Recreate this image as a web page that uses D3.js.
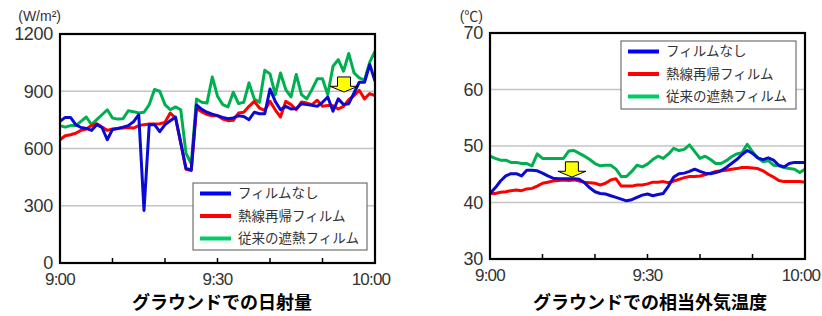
<!DOCTYPE html>
<html><head><meta charset="utf-8">
<script src="https://cdn.jsdelivr.net/npm/d3@7"></script>
<style>
body{margin:0;background:#fff;}
svg{display:block;}
text{font-family:"Liberation Sans","Noto Sans CJK JP",sans-serif;}
.jp{font-family:"Noto Sans CJK JP",sans-serif;}
</style></head>
<body><div id="c"></div>
<script>
// ---- data ----
const minutes = d3.range(0, 61); // 9:00 .. 10:00, one-minute samples
const seriesNames = ["フィルムなし", "熱線再帰フィルム", "従来の遮熱フィルム"];
const xTickLabels = ["9:00", "9:30", "10:00"];
const xTickLabelMinutes = [0, 30, 60];
const xTickMinutes = [0, 10, 20, 30, 40, 50, 60];

const solarTicks = [0, 300, 600, 900, 1200];
const solarNone = [742,763,763,725,710,705,695,725,710,646,700,705,712,720,740,777,275,725,725,688,725,745,765,630,495,488,828,805,790,780,772,763,756,760,772,768,751,790,782,782,912,847,803,821,807,809,835,830,826,821,842,870,795,860,830,835,891,947,947,1040,953];
const solarReflect = [646,667,672,680,695,702,720,730,712,695,702,705,707,710,707,720,725,728,728,730,737,786,760,628,491,484,810,792,778,772,772,754,746,748,786,790,821,847,812,800,847,803,765,847,830,803,844,838,830,853,821,826,824,807,821,856,877,905,860,888,877];
const solarConv = [720,712,720,720,742,765,725,751,777,803,760,754,756,798,793,786,790,830,909,900,830,803,818,803,575,520,860,842,838,975,874,830,818,895,835,842,944,860,842,1010,991,882,996,909,870,988,882,860,909,965,965,882,1031,1066,1005,1098,996,970,958,1053,1110];

const tempTicks = [30, 40, 50, 60, 70];
const tempNone = [41.6,42.6,43.8,44.7,45.1,45.1,44.7,45.7,45.7,45.6,45.2,44.7,44.3,44.2,44.2,44.2,44.2,44.1,43.5,42.6,41.9,41.6,41.5,41.2,40.9,40.6,40.3,40.5,40.9,41.3,41.5,41.2,41.4,41.6,42.9,44.5,45.1,45.2,45.5,45.9,45.5,45.2,45.1,45.3,45.6,46.2,46.9,47.6,48.5,49.2,48.7,47.9,47.6,47.9,47.5,46.6,46.3,46.9,47.1,47.1,47.1];
const tempReflect = [41.6,41.6,41.8,41.9,42.1,42.2,42.1,42.4,42.5,42.9,43.4,43.6,43.8,43.9,44.0,43.9,44.0,43.8,43.6,43.5,43.4,43.1,43.4,44.0,44.2,42.9,42.9,42.9,43.1,43.1,43.3,43.6,43.6,43.7,43.5,43.8,44.1,44.4,44.6,44.6,44.7,44.9,45.2,45.5,45.6,45.7,45.9,46.0,46.2,46.2,46.1,46.0,45.6,45.0,44.5,43.9,43.7,43.7,43.7,43.7,43.6];
const tempConv = [48.2,47.8,47.5,47.5,47.1,47.1,46.9,46.9,46.5,48.6,47.8,47.8,47.8,47.8,47.8,49.1,49.2,48.7,48.2,47.6,46.9,46.5,46.6,46.6,45.9,44.6,44.6,45.5,46.6,46.3,46.8,47.6,48.2,47.8,48.6,49.6,49.2,49.4,50.2,49.0,47.8,48.2,47.6,46.9,46.9,47.4,48.1,48.6,48.8,50.3,49.0,47.9,47.2,47.4,46.6,46.5,46.2,46.0,45.9,45.3,45.9];

// arrow annotations: [minute, top value, tip value]
const solarArrow = [54.1, 975, 896];
const tempArrow = [15.6, 47.2, 44.5];

// ---- drawing ----
const W = 822, H = 316;
const colors = ["#0a0ad2", "#ff0000", "#00b050"];
const legendColors = ["#0000ff", "#ff0000", "#00cc66"];

const svg = d3.select("#c").append("svg").attr("width", W).attr("height", H);

function panel(cfg) {
  const g = svg.append("g");
  const x = d3.scaleLinear().domain([0, 60]).range([cfg.x0, cfg.x1]);
  const y = d3.scaleLinear().domain(cfg.domain).range([cfg.y1, cfg.y0]);
  const clipId = "clip" + cfg.id;
  svg.append("clipPath").attr("id", clipId).append("rect")
    .attr("x", cfg.x0).attr("y", cfg.y0 - 2).attr("width", cfg.x1 - cfg.x0).attr("height", cfg.y1 - cfg.y0 + 2);

  // grid
  g.selectAll(".grid").data(cfg.ticks.slice(1, -1)).join("line")
    .attr("x1", cfg.x0).attr("x2", cfg.x1)
    .attr("y1", d => y(d)).attr("y2", d => y(d))
    .attr("stroke", "#c4c4c4").attr("stroke-width", 1.5);

  // y axis labels
  const ya = d3.axisLeft(y).tickValues(cfg.ticks).tickFormat(d3.format("d")).tickSize(0).tickPadding(7);
  const yg = g.append("g").attr("transform", `translate(${cfg.x0},0)`).call(ya);
  yg.select(".domain").remove();
  yg.selectAll("text").attr("font-size", 18).attr("fill", "#333")
    .attr("font-family", "Liberation Sans, sans-serif").attr("letter-spacing", "-0.3");

  // x axis ticks (inward) and labels
  g.selectAll(".xt").data(xTickMinutes.slice(1, -1)).join("line")
    .attr("x1", d => x(d)).attr("x2", d => x(d))
    .attr("y1", cfg.y1).attr("y2", cfg.y1 - 5)
    .attr("stroke", "#000").attr("stroke-width", 1.5);
  g.selectAll(".xl").data(xTickLabelMinutes).join("text")
    .attr("x", d => x(d) - (d === 60 ? 4 : 0)).attr("y", cfg.y1 + 22)
    .attr("text-anchor", "middle").attr("font-size", 17).attr("fill", "#333")
    .attr("letter-spacing", "-0.8")
    .text((d, i) => xTickLabels[i]);

  // lines
  const line = d3.line().x((d, i) => x(minutes[i])).y(d => y(d));
  const lg = g.append("g").attr("clip-path", `url(#${clipId})`);
  cfg.series.slice().reverse().forEach((s, k) => {
    const idx = cfg.series.length - 1 - k;
    lg.append("path").datum(s).attr("d", line)
      .attr("fill", "none").attr("stroke", colors[idx]).attr("stroke-width", 3)
      .attr("stroke-linejoin", "round");
  });

  // frame
  g.append("rect").attr("x", cfg.x0).attr("y", cfg.y0)
    .attr("width", cfg.x1 - cfg.x0).attr("height", cfg.y1 - cfg.y0)
    .attr("fill", "none").attr("stroke", "#000").attr("stroke-width", 2.2);

  // arrow
  const [am, av0, av1] = cfg.arrow;
  const ax = x(am), ayTop = y(av0), ayTip = y(av1);
  const h = ayTip - ayTop, hw = 14, sw = 6.5, headH = h * 0.38;
  g.append("path")
    .attr("d", `M${ax - sw},${ayTop} L${ax + sw},${ayTop} L${ax + sw},${ayTip - headH} L${ax + hw},${ayTip - headH} L${ax},${ayTip} L${ax - hw},${ayTip - headH} L${ax - sw},${ayTip - headH} Z`)
    .attr("fill", "#ffff00").attr("stroke", "#000").attr("stroke-width", 1);

  // legend
  const L = cfg.legend;
  g.append("rect").attr("x", L.x).attr("y", L.y).attr("width", L.w).attr("height", L.h)
    .attr("fill", "#fff").attr("stroke", "#555").attr("stroke-width", 1);
  seriesNames.forEach((n, i) => {
    const yy = L.y + 10.5 + i * 22.5;
    g.append("line").attr("x1", L.x + 7).attr("x2", L.x + 38).attr("y1", yy).attr("y2", yy)
      .attr("stroke", legendColors[i]).attr("stroke-width", 4);
    g.append("text").attr("class", "jp").attr("x", L.x + 45).attr("y", yy)
      .attr("dy", "0.35em").attr("font-size", 13.5).attr("fill", "#333").text(n);
  });

  // unit label
  g.append("text").attr("x", cfg.unitX).attr("y", 21).attr("text-anchor", "end")
    .attr("font-size", 14).attr("fill", "#333").text(cfg.unit);

  // title
  g.append("text").attr("class", "jp").attr("x", cfg.titleX).attr("y", 309)
    .attr("text-anchor", "middle").attr("font-size", 18).attr("font-weight", "bold")
    .attr("fill", "#000").text(cfg.title);
}

panel({
  id: "a", x0: 60, x1: 375, y0: 34, y1: 263, domain: [0, 1200], ticks: solarTicks,
  series: [solarNone, solarReflect, solarConv], arrow: solarArrow,
  legend: { x: 193, y: 183, w: 174, h: 67 },
  unit: "(W/m²)", unitX: 61, title: "グラウンドでの日射量", titleX: 222
});
panel({
  id: "b", x0: 490, x1: 805, y0: 33, y1: 259, domain: [30, 70], ticks: tempTicks,
  series: [tempNone, tempReflect, tempConv], arrow: tempArrow,
  legend: { x: 621, y: 41, w: 175, h: 68 },
  unit: "(℃)", unitX: 483, title: "グラウンドでの相当外気温度", titleX: 650
});
</script>
</body></html>
